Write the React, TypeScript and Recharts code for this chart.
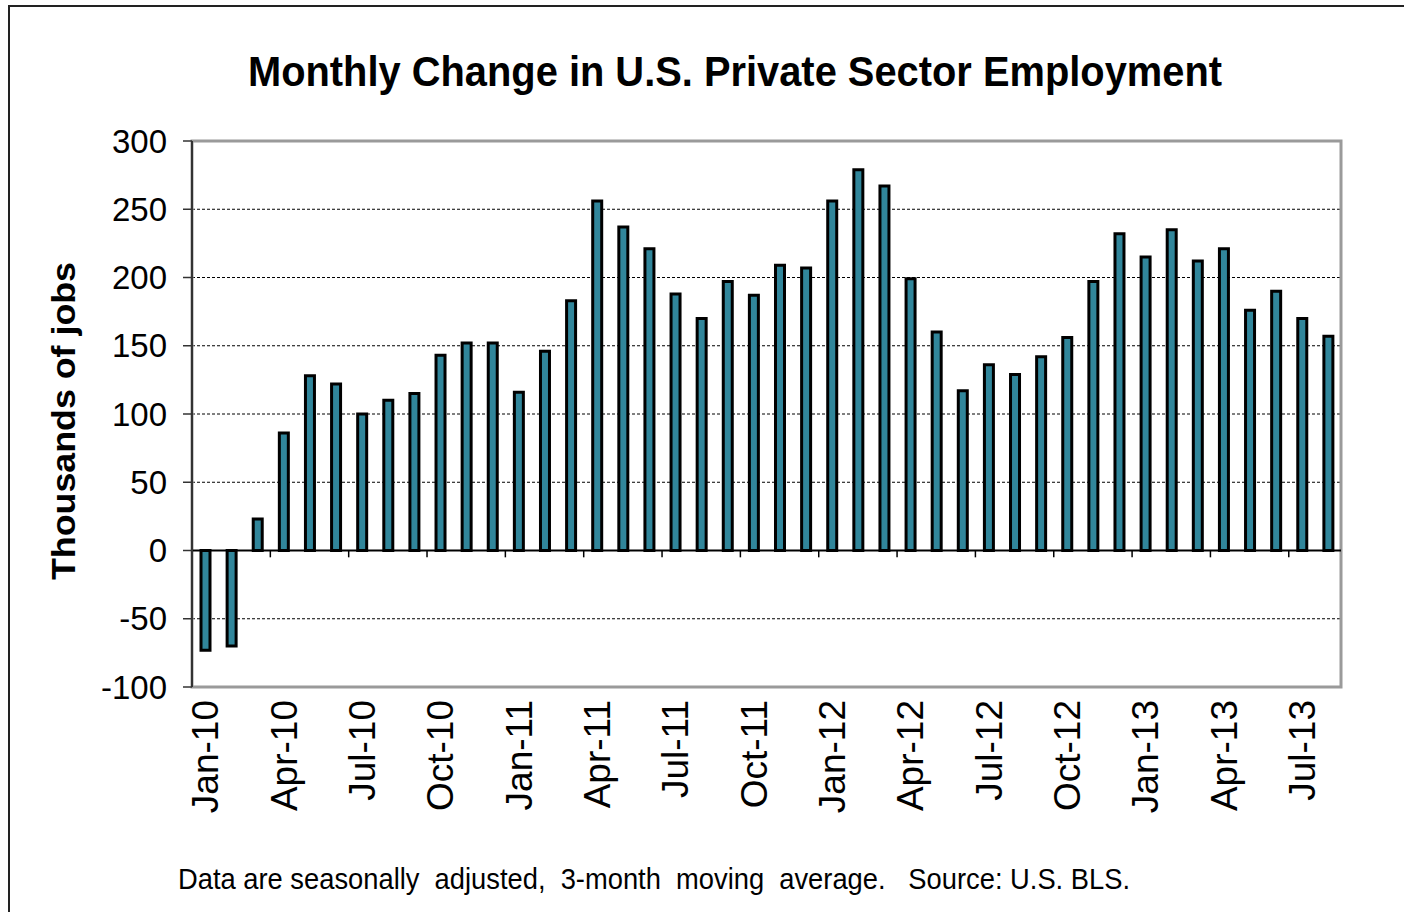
import React from 'react';
import {
  ComposedChart,
  Bar,
  XAxis,
  YAxis,
  CartesianGrid,
  ReferenceLine,
  ReferenceArea,
} from 'recharts';

const categories: string[] = [
  'Jan-10', 'Feb-10', 'Mar-10', 'Apr-10', 'May-10', 'Jun-10', 'Jul-10', 'Aug-10', 'Sep-10', 'Oct-10', 'Nov-10', 'Dec-10',
  'Jan-11', 'Feb-11', 'Mar-11', 'Apr-11', 'May-11', 'Jun-11', 'Jul-11', 'Aug-11', 'Sep-11', 'Oct-11', 'Nov-11', 'Dec-11',
  'Jan-12', 'Feb-12', 'Mar-12', 'Apr-12', 'May-12', 'Jun-12', 'Jul-12', 'Aug-12', 'Sep-12', 'Oct-12', 'Nov-12', 'Dec-12',
  'Jan-13', 'Feb-13', 'Mar-13', 'Apr-13', 'May-13', 'Jun-13', 'Jul-13', 'Aug-13',
];

const jobChange: number[] = [
  -73, -70, 23, 86, 128, 122, 100, 110, 115, 143, 152, 152,
  116, 146, 183, 256, 237, 221, 188, 170, 197, 187, 209, 207,
  256, 279, 267, 199, 160, 117, 136, 129, 142, 156, 197, 232,
  215, 235, 212, 221, 176, 190, 170, 157,
];

const yTicks: number[] = [-100, -50, 0, 50, 100, 150, 200, 250, 300];

const titleText = 'Monthly Change in U.S. Private Sector Employment';
const yLabelText = 'Thousands of jobs';
const footnoteText = 'Data are seasonally  adjusted,  3-month  moving  average.   Source: U.S. BLS.';

const FONT = '"Liberation Sans", Arial, sans-serif';

const data = jobChange.map((v, i) => ({ idx: i, month: categories[i], value: v }));
const labelTicks = categories.map((_, i) => i).filter((i) => i % 3 === 0);
const boundaryTicks = labelTicks.filter((i) => i > 0).map((i) => i - 0.5);

const MonthTick = (props: any) => {
  const { x, y, payload } = props;
  const label = categories[payload.value] ?? '';
  return (
    <text
      x={x}
      y={y}
      transform={`rotate(-90, ${x}, ${y})`}
      textAnchor="end"
      dy="0.36em"
      fontSize={37}
      fontFamily={FONT}
      fill="#000"
    >
      {label}
    </text>
  );
};

export default function App() {
  return (
    <div style={{ position: 'absolute', left: 0, top: 0, width: 1404, height: 912, background: '#fff', overflow: 'hidden' }}>
      <div
        style={{
          position: 'absolute',
          left: 8,
          top: 5,
          width: 1410,
          height: 920,
          borderTop: '2px solid #222',
          borderLeft: '2px solid #222',
          boxSizing: 'border-box',
        }}
      />
      <div style={{ position: 'absolute', left: 0, top: 0 }}>
        <ComposedChart
          width={1404}
          height={912}
          data={data}
          margin={{ top: 141, right: 63, bottom: 95, left: 0 }}
        >
          <CartesianGrid vertical={false} stroke="#000" strokeDasharray="3 2" strokeWidth={1} />
          <XAxis
            dataKey="idx"
            type="number"
            domain={[-0.5, 43.5]}
            ticks={labelTicks}
            interval={0}
            height={130}
            axisLine={false}
            tickLine={false}
            tickSize={0}
            tickMargin={13}
            tick={<MonthTick />}
            allowDataOverflow
          />
          <YAxis
            type="number"
            domain={[-100, 300]}
            ticks={yTicks}
            interval={0}
            width={192}
            axisLine={{ stroke: '#333', strokeWidth: 2 }}
            tickLine={{ stroke: '#333', strokeWidth: 1.5 }}
            tickSize={9}
            tickMargin={16}
            tick={{ fontSize: 33, fontFamily: FONT, fill: '#000' }}
            allowDataOverflow
          />
          <ReferenceArea
            x1={-0.5}
            x2={43.5}
            y1={-100}
            y2={300}
            fill="none"
            fillOpacity={0}
            stroke="#9a9a9a"
            strokeWidth={3}
          />
          <Bar
            dataKey="value"
            barSize={9}
            fill="#31869B"
            stroke="#000"
            strokeWidth={3}
            isAnimationActive={false}
          />
          <ReferenceLine y={0} stroke="#000" strokeWidth={2} />
          {boundaryTicks.map((b) => (
            <ReferenceLine
              key={b}
              segment={[{ x: b, y: 0 }, { x: b, y: -5 }]}
              stroke="#000"
              strokeWidth={1.5}
            />
          ))}
        </ComposedChart>
      </div>
      <svg
        width={1404}
        height={912}
        style={{ position: 'absolute', left: 0, top: 0, pointerEvents: 'none' }}
      >
        <text
          x={248}
          y={86}
          fontSize={42}
          fontWeight="bold"
          fontFamily={FONT}
          textLength={974}
          lengthAdjust="spacingAndGlyphs"
          fill="#000"
        >
          {titleText}
        </text>
        <text
          x={0}
          y={0}
          transform="translate(75, 580) rotate(-90)"
          fontSize={33}
          fontWeight="bold"
          fontFamily={FONT}
          textLength={318}
          lengthAdjust="spacingAndGlyphs"
          fill="#000"
        >
          {yLabelText}
        </text>
        <text
          x={178}
          y={889}
          fontSize={30}
          fontFamily={FONT}
          textLength={952}
          lengthAdjust="spacingAndGlyphs"
          fill="#000"
          style={{ whiteSpace: 'pre' }}
        >
          {footnoteText}
        </text>
      </svg>
    </div>
  );
}
